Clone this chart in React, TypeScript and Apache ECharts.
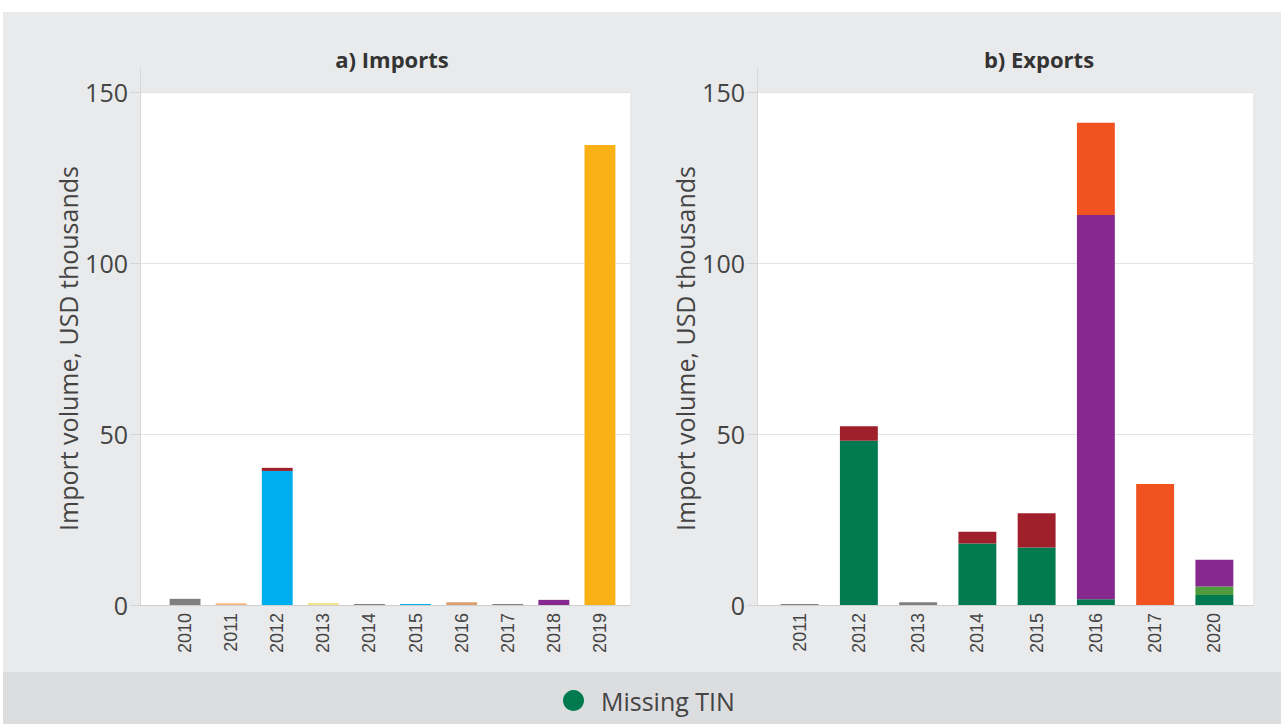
import React, { useEffect, useRef } from "react";
import * as echarts from "echarts";

// ---------- Data ----------
const importYears = ["2010", "2011", "2012", "2013", "2014", "2015", "2016", "2017", "2018", "2019"];
const impGray = [1.8, 0, 0, 0, 0.3, 0, 0, 0.3, 0, 0];
const impLightOrange = [0, 0.5, 0, 0, 0, 0, 0, 0, 0, 0];
const impBlue = [0, 0, 39.2, 0, 0, 0.3, 0, 0, 0, 0];
const impDarkRed = [0, 0, 0.9, 0, 0, 0, 0, 0, 0, 0];
const impLightYellow = [0, 0, 0, 0.6, 0, 0, 0, 0, 0, 0];
const impTan = [0, 0, 0, 0, 0, 0, 0.8, 0, 0, 0];
const impPurple = [0, 0, 0, 0, 0, 0, 0, 0, 1.5, 0];
const impYellow = [0, 0, 0, 0, 0, 0, 0, 0, 0, 134.5];

const exportYears = ["2011", "2012", "2013", "2014", "2015", "2016", "2017", "2020"];
const expGray = [0.3, 0, 0.8, 0, 0, 0, 0, 0];
const expGreen = [0, 48, 0, 18, 16.8, 1.7, 0, 2.9];
const expOlive = [0, 0, 0, 0, 0, 0, 0, 2.5];
const expDarkRed = [0, 4.3, 0, 3.4, 10, 0, 0, 0];
const expPurple = [0, 0, 0, 0, 0, 112.3, 0, 7.8];
const expOrange = [0, 0, 0, 0, 0, 27, 35.4, 0];

const yTicks = [0, 50, 100, 150];
const legendName = "Missing TIN";
const yAxisName = "Import volume, USD thousands";

const C = {
  green: "#007a4e",
  olive: "#4f9a3a",
  darkRed: "#9f1f2b",
  purple: "#86288e",
  orange: "#f0531f",
  yellow: "#f9b115",
  blue: "#00aeef",
  gray: "#7f7f7f",
  lightOrange: "#f5b87a",
  lightYellow: "#f3e38c",
  tan: "#d9a06e",
};

const FONT = "'Open Sans', 'Noto Sans', sans-serif";
const LABEL_FONT = "'Liberation Sans', Arial, sans-serif";

export default function App() {
  const ref = useRef<HTMLDivElement>(null);
  useEffect(() => {
    if (!ref.current) return;
    const chart = echarts.init(ref.current, null, { renderer: "svg" });

    const mkBar = (name: string, data: number[], color: string, idx: number, width: string) => ({
      name,
      type: "bar",
      stack: "s" + idx,
      xAxisIndex: idx,
      yAxisIndex: idx,
      data: data.map((v) => (v === 0 ? null : v)),
      barWidth: width,
      itemStyle: { color },
      emphasis: { disabled: true },
    });

    const TOP = 92;
    const BOTTOM = 724 - 605;
    const outerGrid = (l: number, r: number) => ({
      top: TOP, bottom: BOTTOM, left: l, right: 1281 - r,
      show: true, backgroundColor: "#ffffff", borderWidth: 0,
    });
    const innerGrid = (l: number, r: number) => ({
      top: TOP, bottom: BOTTOM, left: l, right: 1281 - r, show: false,
    });

    const outerX = (idx: number) => ({
      type: "value",
      gridIndex: idx,
      min: 0,
      max: 1,
      axisLine: { show: true, onZero: false, lineStyle: { color: "#cfcfcf", width: 1 } },
      axisTick: { show: false },
      axisLabel: { show: false },
      splitLine: { show: false },
    });
    const innerX = (idx: number, data: string[]) => ({
      type: "category",
      gridIndex: idx,
      data,
      axisLine: { show: false },
      axisTick: { show: false },
      axisLabel: { rotate: 90, fontSize: 18, color: "#444", fontFamily: LABEL_FONT, margin: 8 },
    });

    const outerY = (idx: number) => ({
      type: "value",
      gridIndex: idx,
      min: yTicks[0],
      max: yTicks[yTicks.length - 1],
      interval: 50,
      name: yAxisName,
      nameLocation: "middle",
      nameRotate: 90,
      nameGap: 60,
      nameTextStyle: { fontSize: 25, color: "#444", fontFamily: FONT },
      axisLine: { show: false },
      axisTick: { show: true, length: 10, lineStyle: { color: "#d6d6d6" } },
      splitLine: { lineStyle: { color: "#e3e3e3" } },
      axisLabel: { fontSize: 25, color: "#444", fontFamily: FONT, margin: 12 },
    });
    const innerY = (idx: number) => ({
      type: "value",
      gridIndex: idx,
      min: yTicks[0],
      max: yTicks[yTicks.length - 1],
      interval: 50,
      show: false,
    });

    const option = {
      animation: false,
      graphic: [
        { type: "rect", shape: { x: 3, y: 12, width: 1278, height: 660 }, style: { fill: "#e9eaeb" }, z: -10 },
        { type: "rect", shape: { x: 3, y: 672, width: 1278, height: 52 }, style: { fill: "#dcdddf" }, z: -10 },
        { type: "line", shape: { x1: 140.5, y1: 68, x2: 140.5, y2: 605 }, style: { stroke: "#d8d8d8", lineWidth: 1 }, z: 1 },
        { type: "line", shape: { x1: 757.5, y1: 68, x2: 757.5, y2: 605 }, style: { stroke: "#d8d8d8", lineWidth: 1 }, z: 1 },
      ],
      title: [
        {
          text: "a) Imports",
          left: 387,
          top: 43,
          textAlign: "center",
          textStyle: { fontSize: 22, fontWeight: "bold", color: "#333", fontFamily: FONT },
        },
        {
          text: "b) Exports",
          left: 1034,
          top: 43,
          textAlign: "center",
          textStyle: { fontSize: 22, fontWeight: "bold", color: "#333", fontFamily: FONT },
        },
      ],
      legend: {
        data: [legendName],
        left: 558,
        top: 683,
        icon: "circle",
        itemWidth: 21,
        itemHeight: 21,
        itemGap: 10,
        textStyle: { fontSize: 25, color: "#444", fontFamily: FONT, padding: [0, 0, 0, 12] },
      },
      grid: [
        outerGrid(140, 630),
        innerGrid(162, 623),
        outerGrid(757, 1253),
        innerGrid(770, 1244),
      ],
      xAxis: [outerX(0), innerX(1, importYears), outerX(2), innerX(3, exportYears)],
      yAxis: [outerY(0), innerY(1), outerY(2), innerY(3)],
      series: [
        mkBar("imp-gray", impGray, C.gray, 1, "67%"),
        mkBar("imp-lightorange", impLightOrange, C.lightOrange, 1, "67%"),
        mkBar("imp-blue", impBlue, C.blue, 1, "67%"),
        mkBar("imp-darkred", impDarkRed, C.darkRed, 1, "67%"),
        mkBar("imp-lightyellow", impLightYellow, C.lightYellow, 1, "67%"),
        mkBar("imp-tan", impTan, C.tan, 1, "67%"),
        mkBar("imp-purple", impPurple, C.purple, 1, "67%"),
        mkBar("imp-yellow", impYellow, C.yellow, 1, "67%"),
        mkBar("exp-gray", expGray, C.gray, 3, "64%"),
        mkBar(legendName, expGreen, C.green, 3, "64%"),
        mkBar("exp-olive", expOlive, C.olive, 3, "64%"),
        mkBar("exp-darkred", expDarkRed, C.darkRed, 3, "64%"),
        mkBar("exp-purple", expPurple, C.purple, 3, "64%"),
        mkBar("exp-orange", expOrange, C.orange, 3, "64%"),
      ],
    };

    chart.setOption(option as any);
    return () => chart.dispose();
  }, []);

  return (
    <div
      ref={ref}
      style={{ position: "absolute", left: 0, top: 0, width: 1281, height: 724, background: "#ffffff" }}
    />
  );
}
